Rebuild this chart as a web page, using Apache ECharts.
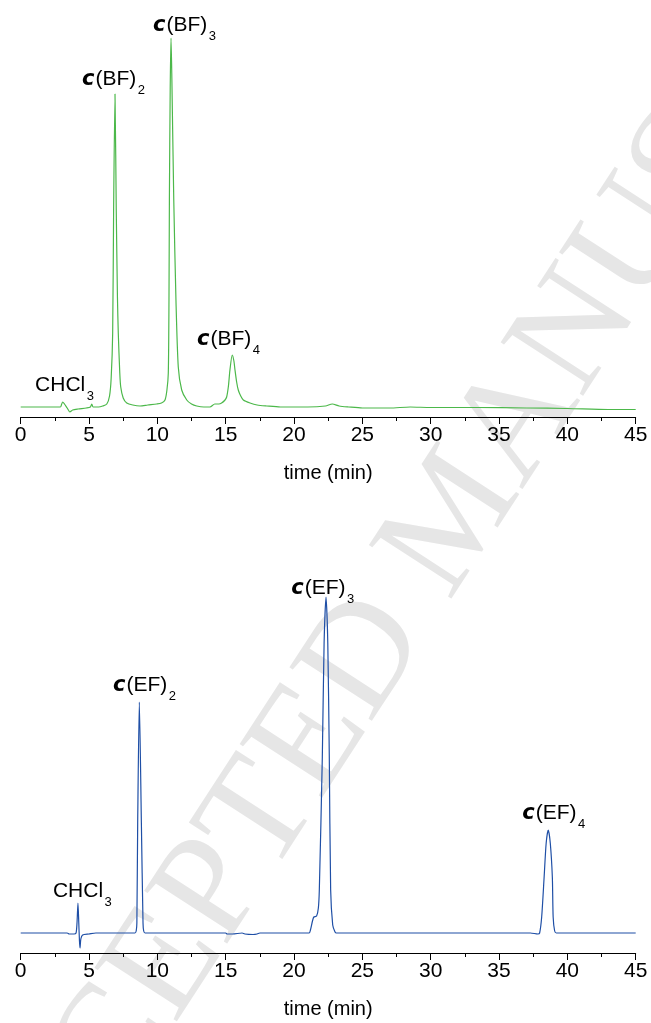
<!DOCTYPE html>
<html>
<head>
<meta charset="utf-8">
<script src="https://cdn.jsdelivr.net/npm/echarts@6/dist/echarts.min.js"></script>
<style>
html,body{margin:0;padding:0;background:#fff;}
#main{width:651px;height:1023px;}
</style>
</head>
<body>
<div id="main"></div>
<script>
// ---- Data: top chromatogram c(BF)n (time in min, detector signal, arbitrary units) ----
const bfTime = [0, 2.9, 3.0, 3.07, 3.2, 3.4, 3.6, 3.8, 4.2, 4.8, 5.1, 5.2, 5.3, 5.7, 6.0, 6.3, 6.5, 6.62, 6.73, 6.8, 6.9, 6.99, 7.08, 7.14, 7.25, 7.32, 7.5, 7.76, 8.2, 8.73, 9.3, 9.95, 10.3, 10.56, 10.7, 10.8, 10.85, 10.88, 10.94, 11.0, 11.06, 11.2, 11.36, 11.53, 11.78, 12.15, 12.5, 12.88, 13.4, 13.85, 14.2, 14.5, 14.7, 14.95, 15.07, 15.2, 15.31, 15.48, 15.6, 15.68, 15.8, 15.92, 16.1, 16.29, 16.78, 17.3, 18, 19, 21, 22.3, 22.8, 23.3, 24, 25, 27, 28.5, 30, 33.4, 37, 40, 43, 45];
const bfSignal = [1, 1, 4, 6, 4, 0, -4, -2, -1, 0, 1, 4, 1, 1, 2, 4, 12, 30, 75, 200, 314, 200, 110, 75, 35, 21, 10, 5, 3, 2, 3, 4, 5, 8, 18, 35, 108, 208, 320, 370, 330, 208, 108, 41, 18, 8, 4, 2, 1, 1, 4, 4, 5, 8, 11, 22, 38, 53, 47, 38, 26, 18, 12, 8, 5, 3, 2, 1, 1, 2, 4, 2, 1, 0, 0, 1, 0.5, 0.5, 0, -0.5, -1.5, -1.5];

// ---- Data: bottom chromatogram c(EF)n ----
const efTime = [0, 3.4, 3.55, 3.9, 4.05, 4.12, 4.19, 4.25, 4.3, 4.34, 4.4, 4.53, 5.0, 5.5, 8.36, 8.45, 8.5, 8.56, 8.68, 8.83, 8.95, 9.0, 9.1, 15.0, 15.1, 15.5, 16.2, 16.4, 17.0, 17.3, 17.5, 21.1, 21.2, 21.35, 21.45, 21.65, 21.78, 21.85, 22.07, 22.2, 22.34, 22.47, 22.58, 22.68, 22.83, 23.0, 23.1, 37.3, 37.85, 37.97, 38.12, 38.3, 38.45, 38.6, 38.75, 38.9, 38.96, 39.07, 39.2, 45];
const efSignal = [0, 0, -1, -1, 0, 10, 30, 10, -8, -15, -6, -2, -1, 0, 0, 2, 10, 110, 231, 110, 10, 2, 0, 0, -1, -1, 0, -1, -1.5, -1, 0, 0, 3, 12, 16, 17, 25, 43, 176, 290, 336, 290, 176, 43, 8, 1, 0, 0, -1, 0, 16, 56, 90, 103, 90, 56, 16, 2, 0, 0];

// ---- Axis ticks ----
const timeMin = 0, timeMax = 45, timeStep = 5;
const axisTitle = 'time (min)';

// ---- Peak annotations ----
const annPanel = [0, 0, 0, 0, 1, 1, 1, 1];
const annTime = [1.05, 4.49, 9.68, 12.9, 2.36, 6.75, 19.8, 36.7];
const annSignal = [15, 321, 375, 61, 34, 240, 337, 112];
const annPrefix = ['', 'c', 'c', 'c', '', 'c', 'c', 'c'];
const annText = ['CHCl', '(BF)', '(BF)', '(BF)', 'CHCl', '(EF)', '(EF)', '(EF)'];
const annSub = ['3', '2', '3', '4', '3', '2', '3', '4'];

// ---- Watermark text ----
const watermarkText = 'ACCEPTED MANUSCRIPT';

const pair = (xs, ys) => xs.map((x, i) => [x, ys[i]]);

const FONT = '"Liberation Sans", Arial, sans-serif';
const xAxisCommon = {
  type: 'value', min: timeMin, max: timeMax, interval: timeStep,
  axisLine: {onZero: false, lineStyle: {color: '#000', width: 1}},
  axisTick: {length: 7, lineStyle: {color: '#000', width: 1}},
  minorTick: {show: true, splitNumber: 2, length: 4, lineStyle: {color: '#000', width: 1}},
  splitLine: {show: false},
  axisLabel: {fontSize: 21, color: '#000', fontFamily: FONT, margin: 8},
  name: axisTitle, nameLocation: 'middle', nameGap: 46,
  nameTextStyle: {fontSize: 20, color: '#000', fontFamily: FONT}
};

const option = {
  animation: false,
  backgroundColor: '#fff',
  grid: [
    {left: 20.7, right: 15.3, top: 8, bottom: 606},
    {left: 20.7, right: 15.3, top: 533, bottom: 70}
  ],
  xAxis: [
    Object.assign({gridIndex: 0}, xAxisCommon),
    Object.assign({gridIndex: 1}, xAxisCommon)
  ],
  yAxis: [
    {gridIndex: 0, type: 'value', min: -9, max: 400, show: false},
    {gridIndex: 1, type: 'value', min: -20, max: 400, show: false}
  ],
  series: [
    {type: 'line', xAxisIndex: 0, yAxisIndex: 0, data: pair(bfTime, bfSignal),
     showSymbol: false, symbol: 'none', smooth: 0.25, z: 5,
     lineStyle: {color: '#4cb84a', width: 1.2}},
    {type: 'line', xAxisIndex: 1, yAxisIndex: 1, data: pair(efTime, efSignal),
     showSymbol: false, symbol: 'none', smooth: 0.25, z: 5,
     lineStyle: {color: '#1f4fa6', width: 1.2}}
  ]
};

const chart = echarts.init(document.getElementById('main'), null, {renderer: 'canvas'});
chart.setOption(option);

const mctx = document.createElement('canvas').getContext('2d');
function tw(font, s) { mctx.font = font; return mctx.measureText(s).width; }
const prefFont = 'italic bold 21px "DejaVu Sans"';
const mainFont = '21px "Liberation Sans"';

const graphics = [{
  type: 'text', x: 458, y: 516, rotation: 57 * Math.PI / 180, z: -10, silent: true,
  style: {text: watermarkText, fontFamily: 'Liberation Serif', fontSize: 150,
          fill: '#e6e6e6', align: 'center', verticalAlign: 'middle'}
}];
annTime.forEach((t, i) => {
  const p = chart.convertToPixel({gridIndex: annPanel[i]}, [t, annSignal[i]]);
  const x = p[0], yb = p[1];
  const w = tw(prefFont, annPrefix[i]) + tw(mainFont, annText[i]) + (annPrefix[i] ? 1 : 0);
  graphics.push({
    type: 'text', x: x, y: yb - 7.5, z: 10,
    style: {
      text: (annPrefix[i] ? '{p|' + annPrefix[i] + '}' : '') + '{m|' + annText[i] + '}',
      verticalAlign: 'middle', align: 'left',
      rich: {
        p: {fontFamily: 'DejaVu Sans', fontStyle: 'italic', fontWeight: 'bold', fontSize: 21, fill: '#000', padding: [0, 1, 0, 0]},
        m: {fontFamily: 'Liberation Sans', fontSize: 21, fill: '#000'}
      }
    }
  });
  graphics.push({
    type: 'text', x: x + w + 1.5, y: yb + 3, z: 10,
    style: {text: annSub[i], fontFamily: 'Liberation Sans', fontSize: 13, fill: '#000', verticalAlign: 'middle', align: 'left'}
  });
});
chart.setOption({graphic: graphics});
</script>
</body>
</html>
